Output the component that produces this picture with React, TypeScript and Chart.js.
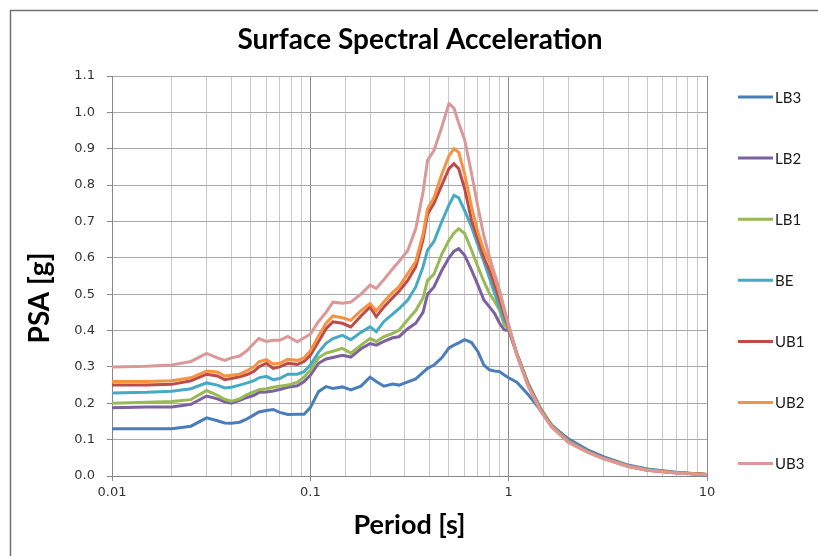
import React, { useEffect, useRef } from 'react';
import { Chart, registerables } from 'chart.js';

Chart.register(...registerables);

const chartTitle = 'Surface Spectral Acceleration';
const xAxisTitle = 'Period [s]';
const yAxisTitle = 'PSA [g]';

const periods = [
  0.01, 0.015, 0.02, 0.025, 0.03, 0.034, 0.037, 0.04, 0.044, 0.048, 0.052, 0.055, 0.06, 0.065, 0.07, 0.077,
  0.086, 0.093, 0.1, 0.11, 0.12, 0.13, 0.145, 0.16, 0.18, 0.2, 0.215, 0.235, 0.26, 0.28, 0.31, 0.34, 0.37,
  0.39, 0.42, 0.46, 0.5, 0.53, 0.56, 0.6, 0.65, 0.7, 0.75, 0.8, 0.85, 0.9, 0.95, 1.0, 1.1, 1.25, 1.45, 1.65,
  2.0, 2.5, 3, 4, 5, 7, 10,
];

const LB3 = [
  0.13, 0.13, 0.13, 0.137, 0.16, 0.152, 0.146, 0.145, 0.148, 0.157, 0.168, 0.176, 0.18, 0.183, 0.175, 0.169,
  0.17, 0.17, 0.188, 0.232, 0.246, 0.241, 0.245, 0.237, 0.247, 0.272, 0.26, 0.247, 0.253, 0.25, 0.259, 0.267, 0.285,
  0.296, 0.305, 0.325, 0.352, 0.36, 0.366, 0.375, 0.367, 0.342, 0.305, 0.292, 0.289, 0.287, 0.278, 0.27, 0.258, 0.225, 0.18, 0.14,
  0.102, 0.072, 0.053, 0.03, 0.019, 0.01, 0.004,
];
const LB2 = [
  0.188, 0.19, 0.19, 0.197, 0.22, 0.212, 0.204, 0.2, 0.208, 0.216, 0.222, 0.23, 0.231, 0.234, 0.238, 0.244,
  0.248, 0.26, 0.277, 0.31, 0.322, 0.326, 0.332, 0.327, 0.35, 0.364, 0.36, 0.37, 0.38, 0.383, 0.405, 0.42, 0.45,
  0.5, 0.52, 0.565, 0.6, 0.618, 0.625, 0.607, 0.566, 0.525, 0.484, 0.465, 0.447, 0.42, 0.402, 0.4, 0.335, 0.255, 0.185, 0.138,
  0.096, 0.068, 0.05, 0.028, 0.017, 0.009, 0.004,
];
const LB1 = [
  0.2, 0.203, 0.205, 0.21, 0.235, 0.222, 0.211, 0.206, 0.212, 0.224, 0.232, 0.237, 0.24, 0.244, 0.247, 0.25,
  0.258, 0.272, 0.291, 0.325, 0.338, 0.343, 0.351, 0.338, 0.36, 0.378, 0.37, 0.383, 0.392, 0.401, 0.43, 0.455, 0.49,
  0.538, 0.555, 0.61, 0.648, 0.668, 0.68, 0.667, 0.621, 0.575, 0.535, 0.502, 0.48, 0.456, 0.415, 0.405, 0.337, 0.257, 0.186, 0.139,
  0.097, 0.068, 0.05, 0.028, 0.017, 0.009, 0.004,
];
const BE = [
  0.228, 0.23, 0.233, 0.24, 0.256, 0.25, 0.242, 0.244, 0.25, 0.256, 0.262, 0.27, 0.274, 0.265, 0.268, 0.28,
  0.28, 0.287, 0.305, 0.34, 0.365, 0.378, 0.387, 0.375, 0.395, 0.41, 0.397, 0.425, 0.445, 0.46, 0.484, 0.52, 0.575,
  0.621, 0.645, 0.7, 0.745, 0.772, 0.765, 0.73, 0.685, 0.635, 0.59, 0.545, 0.502, 0.465, 0.429, 0.41, 0.336, 0.254, 0.183, 0.137,
  0.095, 0.067, 0.049, 0.027, 0.017, 0.009, 0.004,
];
const UB1 = [
  0.25, 0.25, 0.252, 0.262, 0.28, 0.275, 0.265, 0.268, 0.273, 0.279, 0.288, 0.3, 0.31, 0.296, 0.3, 0.31,
  0.307, 0.315, 0.332, 0.37, 0.405, 0.424, 0.42, 0.41, 0.44, 0.465, 0.438, 0.465, 0.49, 0.508, 0.538, 0.575, 0.65,
  0.72, 0.75, 0.8, 0.845, 0.859, 0.845, 0.79, 0.703, 0.65, 0.6, 0.566, 0.525, 0.484, 0.445, 0.41, 0.335, 0.252, 0.181, 0.136,
  0.094, 0.066, 0.049, 0.027, 0.016, 0.009, 0.004,
];
const UB2 = [
  0.26, 0.26, 0.262, 0.27, 0.289, 0.286, 0.275, 0.277, 0.28, 0.29, 0.3, 0.314, 0.32, 0.308, 0.31, 0.321,
  0.318, 0.325, 0.344, 0.385, 0.42, 0.44, 0.435, 0.428, 0.455, 0.474, 0.454, 0.479, 0.505, 0.52, 0.557, 0.59, 0.665,
  0.735, 0.765, 0.83, 0.88, 0.9, 0.89, 0.83, 0.74, 0.67, 0.62, 0.589, 0.545, 0.502, 0.455, 0.415, 0.334, 0.25, 0.18, 0.135,
  0.093, 0.066, 0.048, 0.027, 0.016, 0.009, 0.004,
];
const UB3 = [
  0.3, 0.302, 0.305, 0.315, 0.337, 0.325, 0.318, 0.325, 0.33, 0.345, 0.365, 0.378, 0.37, 0.373, 0.373, 0.384,
  0.369, 0.38, 0.39, 0.425, 0.45, 0.478, 0.475, 0.478, 0.5, 0.525, 0.516, 0.54, 0.57, 0.59, 0.62, 0.68, 0.78,
  0.868, 0.895, 0.96, 1.024, 1.012, 0.97, 0.925, 0.832, 0.74, 0.66, 0.603, 0.555, 0.511, 0.46, 0.415, 0.333, 0.248, 0.178, 0.134,
  0.093, 0.065, 0.048, 0.026, 0.016, 0.008, 0.003,
];

const seriesNames = ['LB3', 'LB2', 'LB1', 'BE', 'UB1', 'UB2', 'UB3'];
const seriesValues = [LB3, LB2, LB1, BE, UB1, UB2, UB3];
const seriesColors = ['#4A7EBB', '#7D60A0', '#98B954', '#46AAC5', '#BE4B48', '#F69240', '#DC9898'];

const xTickLabels = ['0.01', '0.1', '1', '10'];
const yMin = 0;
const yMax = 1.1;
const yStep = 0.1;

const isDecade = (v: number) => Math.abs(Math.log10(v) - Math.round(Math.log10(v))) < 1e-6;

export default function App() {
  const ref = useRef<HTMLCanvasElement | null>(null);

  useEffect(() => {
    if (!ref.current) return;
    const decorations = {
      id: 'decorations',
      beforeDraw(chart: any) {
        const ctx = chart.ctx;
        ctx.save();
        ctx.strokeStyle = '#707070';
        ctx.lineWidth = 1.5;
        ctx.strokeRect(10.5, 10.5, 900, 700);
        ctx.restore();
      },
      afterDraw(chart: any) {
        const ctx = chart.ctx;
        ctx.save();
        ctx.fillStyle = '#000';
        ctx.font = 'bold 28px Lato';
        ctx.textAlign = 'center';
        ctx.textBaseline = 'middle';
        ctx.fillText(chartTitle, 420, 40);

        ctx.save();
        ctx.translate(40, 298);
        ctx.rotate(-Math.PI / 2);
        ctx.font = 'bold 28px Lato';
        ctx.fillText(yAxisTitle, 0, 0);
        ctx.restore();

        chart.data.datasets.forEach((ds: any, i: number) => {
          const y = 97 + i * 61.1;
          ctx.strokeStyle = ds.borderColor;
          ctx.lineWidth = 3;
          ctx.beginPath();
          ctx.moveTo(738, y);
          ctx.lineTo(773, y);
          ctx.stroke();
          ctx.fillStyle = '#1a1a1a';
          ctx.font = '15px Lato';
          ctx.textAlign = 'left';
          ctx.fillText(ds.label, 775, y + 1);
        });
        ctx.restore();
      },
    };

    const chart = new Chart(ref.current, {
      type: 'line',
      data: {
        datasets: seriesNames.map((name, i) => ({
          label: name,
          data: periods.map((p, j) => ({ x: p, y: seriesValues[i][j] })),
          borderColor: seriesColors[i],
          backgroundColor: seriesColors[i],
          borderWidth: 3,
          pointRadius: 0,
          tension: 0,
          fill: false,
          order: seriesNames.length - 1 - i,
        })),
      },
      options: {
        responsive: false,
        animation: false,
        events: [],
        layout: { padding: { left: 0, top: 76, right: 111, bottom: 0 } },
        plugins: {
          legend: { display: false },
          title: { display: false },
          tooltip: { enabled: false },
        },
        scales: {
          x: {
            type: 'logarithmic',
            min: 0.01,
            max: 10,
            afterFit: (s: any) => {
              s.height = 80;
            },
            grid: {
              color: (c: any) => (c.tick && isDecade(c.tick.value) ? '#8a8a8a' : '#cacaca'),
              tickColor: (c: any) => (c.tick && isDecade(c.tick.value) ? '#8a8a8a' : 'rgba(0,0,0,0)'),
              tickLength: 5,
            },
            border: { color: '#868686' },
            ticks: {
              autoSkip: false,
              maxRotation: 0,
              minRotation: 0,
              padding: 4,
              color: '#333',
              font: { family: 'DejaVu Sans', size: 13 },
              callback: (v: any) => {
                const n = Number(v);
                if (!isDecade(n)) return '';
                const lbl = xTickLabels.find((t) => Math.abs(Number(t) - n) < 1e-9);
                return lbl ?? '';
              },
            },
            title: {
              display: true,
              text: xAxisTitle,
              color: '#000',
              font: { family: 'Lato', weight: 'bold', size: 27 },
              padding: { top: 0, bottom: 15 },
            },
          },
          y: {
            type: 'linear',
            min: yMin,
            max: yMax,
            afterFit: (s: any) => {
              s.width = 112;
            },
            grid: { color: '#a8a8a8', tickColor: '#868686', tickLength: 5 },
            border: { color: '#868686' },
            ticks: {
              stepSize: yStep,
              padding: 12,
              color: '#333',
              font: { family: 'DejaVu Sans', size: 13 },
              callback: (v: any) => Number(v).toFixed(1),
            },
            title: { display: false },
          },
        },
      },
      plugins: [decorations],
    } as any);

    return () => chart.destroy();
  }, []);

  return (
    <div style={{ position: 'absolute', left: 0, top: 0, width: 818, height: 556, background: '#fff' }}>
      <canvas ref={ref} width={818} height={556} style={{ width: 818, height: 556, display: 'block' }} />
    </div>
  );
}
